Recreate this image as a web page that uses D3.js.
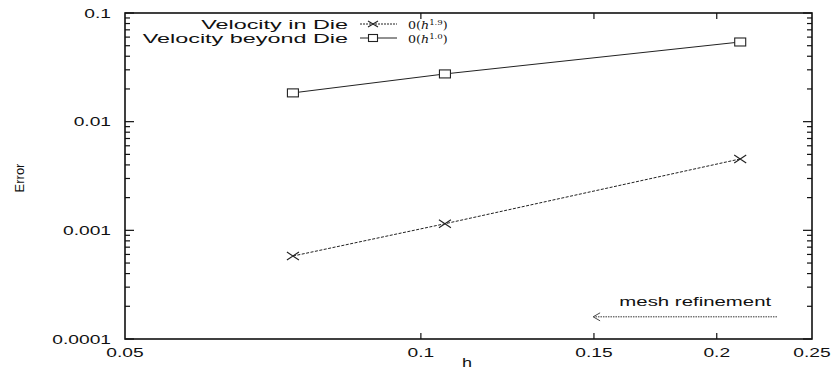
<!DOCTYPE html>
<html>
<head>
<meta charset="utf-8">
<script src="https://cdn.jsdelivr.net/npm/d3@7"></script>
<style>
  body { margin: 0; background: #fff; }
  svg text { font-family: "Liberation Sans", Arial, sans-serif; fill: #111; }
</style>
</head>
<body>
<svg id="chart" width="833" height="371"></svg>
<script>
const hValues = [0.0741, 0.1058, 0.2113];
const errInDie = [0.00058, 0.00115, 0.00454];
const errBeyondDie = [0.0184, 0.0275, 0.0541];
const seriesNames = ["Velocity in Die", "Velocity beyond Die"];
const rateExps = ["1.9", "1.0"];
const xTicks = [0.05, 0.1, 0.15, 0.2, 0.25];
const yTicks = [0.0001, 0.001, 0.01, 0.1];
const yTickLabels = ["0.0001", "0.001", "0.01", "0.1"];

const svg = d3.select("#chart");
const plotL = 125, plotR = 812, plotT = 13, plotB = 339;

const x = d3.scaleLog().domain([0.05, 0.25]).range([plotL, plotR]);
const y = d3.scaleLog().domain([1e-4, 0.1]).range([plotB, plotT]);

// the scanned font is very wide, so text is stretched horizontally
function label(px, py, str, anchor, size, sx) {
    return svg.append("text")
        .attr("transform", `translate(${px},${py}) scale(${sx},1)`)
        .attr("text-anchor", anchor)
        .attr("font-size", size)
        .text(str);
}

// minor y ticks (2..9 in each decade)
const yMinor = [];
yTicks.slice(0, -1).forEach(d => { for (let k = 2; k < 10; k++) yMinor.push(d * k); });

const ticks = svg.append("g").attr("stroke", "#111").attr("stroke-width", 1.2);
[plotL, plotR].forEach((px, i) => {
    const dir = i === 0 ? 1 : -1;
    ticks.selectAll(null).data(yTicks).enter().append("line")
        .attr("x1", px).attr("x2", px + dir * 9)
        .attr("y1", d => y(d)).attr("y2", d => y(d));
    ticks.selectAll(null).data(yMinor).enter().append("line")
        .attr("x1", px).attr("x2", px + dir * 5)
        .attr("y1", d => y(d)).attr("y2", d => y(d));
});
[plotB, plotT].forEach((py, i) => {
    const dir = i === 0 ? -1 : 1;
    ticks.selectAll(null).data(xTicks.slice(1, -1)).enter().append("line")
        .attr("x1", d => x(d)).attr("x2", d => x(d))
        .attr("y1", py).attr("y2", py + dir * 6);
});

svg.append("rect")
    .attr("x", plotL).attr("y", plotT)
    .attr("width", plotR - plotL).attr("height", plotB - plotT)
    .attr("fill", "none").attr("stroke", "#111").attr("stroke-width", 1.6);

// tick labels
yTicks.forEach((d, i) => label(111, y(d) + 4.5, yTickLabels[i], "end", 12, 1.6));
xTicks.forEach(d => label(x(d), 357, String(d), "middle", 12, 1.6));

label(467, 367, "h", "middle", 12, 1.5);
svg.append("text")
    .attr("transform", "translate(24,178) rotate(-90)")
    .attr("text-anchor", "middle")
    .attr("font-size", 13)
    .text("Error");

// series
const line = d3.line().x(d => x(d[0])).y(d => y(d[1]));
const inDie = hValues.map((h, i) => [h, errInDie[i]]);
const beyond = hValues.map((h, i) => [h, errBeyondDie[i]]);

svg.append("path").datum(inDie).attr("d", line)
    .attr("fill", "none").attr("stroke", "#222").attr("stroke-width", 1)
    .attr("stroke-dasharray", "3,1.5");
svg.append("path").datum(beyond).attr("d", line)
    .attr("fill", "none").attr("stroke", "#222").attr("stroke-width", 1);

function cross(g, cx, cy, w, h) {
    g.append("path")
        .attr("d", `M${cx - w},${cy - h}L${cx + w},${cy + h}M${cx - w},${cy + h}L${cx + w},${cy - h}`)
        .attr("stroke", "#222").attr("stroke-width", 1.1).attr("fill", "none");
}
function square(g, cx, cy, w, h) {
    g.append("rect")
        .attr("x", cx - w).attr("y", cy - h).attr("width", 2 * w).attr("height", 2 * h)
        .attr("fill", "#fff").attr("stroke", "#222").attr("stroke-width", 1.1);
}
const marks = svg.append("g");
inDie.forEach(d => cross(marks, x(d[0]), y(d[1]), 6, 4));
beyond.forEach(d => square(marks, x(d[0]), y(d[1]), 5.5, 4));

// legend
const legY = [29, 43];
seriesNames.forEach((name, i) => {
    label(348, legY[i], name, "end", 13, 1.8);
    const cy = legY[i] - 5;
    svg.append("line")
        .attr("x1", 360).attr("x2", 397).attr("y1", cy).attr("y2", cy)
        .attr("stroke", "#222").attr("stroke-width", 1)
        .attr("stroke-dasharray", i === 0 ? "2,1" : null);
    if (i === 0) cross(svg, 373, cy, 5, 3); else square(svg, 373, cy, 4.5, 3.5);
    const t = svg.append("text")
        .attr("transform", `translate(408,${legY[i]}) scale(1.15,1)`)
        .attr("font-size", 11)
        .style("font-family", "'DejaVu Serif', 'Liberation Serif', serif");
    t.append("tspan").text("0(");
    t.append("tspan").attr("font-style", "italic").text("h");
    t.append("tspan").attr("font-size", 7.5).attr("dy", -4).text(rateExps[i]);
    t.append("tspan").attr("dy", 4).text(")");
});

// mesh refinement annotation
label(x(0.1592), y(0.000201), "mesh refinement", "start", 12, 1.7);
const ay = y(0.00016), ax0 = x(0.2303), ax1 = x(0.1497);
svg.append("line")
    .attr("x1", ax0).attr("x2", ax1 + 1).attr("y1", ay).attr("y2", ay)
    .attr("stroke", "#333").attr("stroke-width", 1).attr("stroke-dasharray", "1.5,1");
svg.append("path")
    .attr("d", `M${ax1 + 7},${ay - 4}L${ax1},${ay}L${ax1 + 7},${ay + 4}`)
    .attr("fill", "none").attr("stroke", "#333").attr("stroke-width", 0.9);
</script>
</body>
</html>
